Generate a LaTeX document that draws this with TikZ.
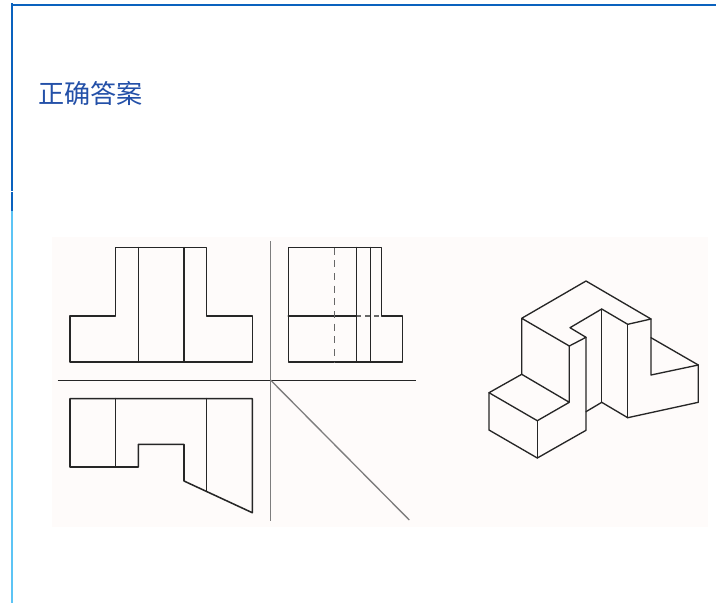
\documentclass[tikz,border=0pt]{standalone}
\usepackage{fontspec}
\newfontfamily\cjk{Noto Sans CJK SC}
\definecolor{bord}{HTML}{0A62BE}
\definecolor{bordl}{HTML}{5CC4F5}
\definecolor{paper}{HTML}{FEFBFA}
\definecolor{ink}{HTML}{262626}
\definecolor{title}{HTML}{2350A8}
\tikzset{
  obj/.style={draw=ink,line width=1.15pt,line join=round,line cap=round},
  iso/.style={draw=ink,line width=1pt,line join=round,line cap=round},
  hid/.style={draw=ink!70,line width=1pt,dash pattern=on 5.2pt off 4.3pt},
  axis/.style={draw=ink,line width=0.75pt},
  axisg/.style={draw=ink!60,line width=1pt},
}
\begin{document}
\begin{tikzpicture}[x=0.75pt,y=-0.75pt]
\useasboundingbox (0,0) rectangle (716,603);
\fill[white] (0,0) rectangle (716,603);
% frame
\fill[bord] (11,4) rectangle (716,6);
\fill[bord] (11,3) rectangle (13,190.5);
\fill[bord] (11,192) rectangle (13,211);
\fill[bordl] (11,211) rectangle (13,603);
% title
\node[anchor=west,inner sep=0pt,text=title,font=\cjk\fontsize{19.6pt}{22pt}\selectfont] (heading) at (38,94) {正确答案};
% paper
\fill[paper] (52,237) rectangle (708,527);
% axes
\draw[axis] (57.7,380) -- (415.7,380);
\draw[axisg] (270.3,241) -- (270.3,520.7);
\draw[axisg] (270.5,380) -- (409.3,520);
% front view
\draw[obj] (70,316) -- (115.7,316) -- (115.7,247.7) -- (206.7,247.7) -- (206.7,316) -- (252.3,316) -- (252.3,362) -- (70,362) -- cycle;
\draw[obj] (138.3,247.7) -- (138.3,362) (184,247.7) -- (184,362);
% side view
\draw[obj] (288.3,247.7) -- (381.3,247.7) -- (381.3,316) -- (402.3,316) -- (402.3,362) -- (288.3,362) -- cycle;
\draw[obj] (288.3,316) -- (356.7,316) (356.7,247.7) -- (356.7,362) (370.7,247.7) -- (370.7,362);
\draw[hid] (334.3,247.7) -- (334.3,362);
\draw[hid,dash pattern=on 3.5pt off 3pt] (356.7,316) -- (381.3,316);
% top view
\draw[obj] (70,398.7) -- (252.3,398.7) -- (252.3,512.7) -- (184,481) -- (184,444.3) -- (138.3,444.3) -- (138.3,467) -- (70,467) -- cycle;
\draw[obj] (115.7,398.7) -- (115.7,467) (206.7,398.7) -- (206.7,491);
% isometric
\draw[iso] (521.7,374.3) -- (521.7,318.3) -- (586,281) -- (651,319) -- (627.7,324.3) -- (601.7,309) -- (570,327.7) -- (586,337.3) -- (569.3,346) -- (521.7,318.3);
\draw[iso] (569.3,346) -- (569.3,402.3) -- (537.3,420.7) -- (489,392.7) -- (521.7,374.3) -- (569.3,402.3);
\draw[iso] (489,392.7) -- (489,430) -- (537.3,458) -- (586,430.3) -- (586,337.3);
\draw[iso] (537.3,420.7) -- (537.3,458);
\draw[iso] (586,411.7) -- (601.7,402.3) -- (627.7,417.7) -- (698.3,402.3) -- (698.3,365) -- (651,337.7);
\draw[iso] (601.7,309) -- (601.7,402.3);
\draw[iso] (627.7,324.3) -- (627.7,417.7);
\draw[iso] (651,319) -- (651,375) -- (698.3,365);
\end{tikzpicture}
\end{document}
